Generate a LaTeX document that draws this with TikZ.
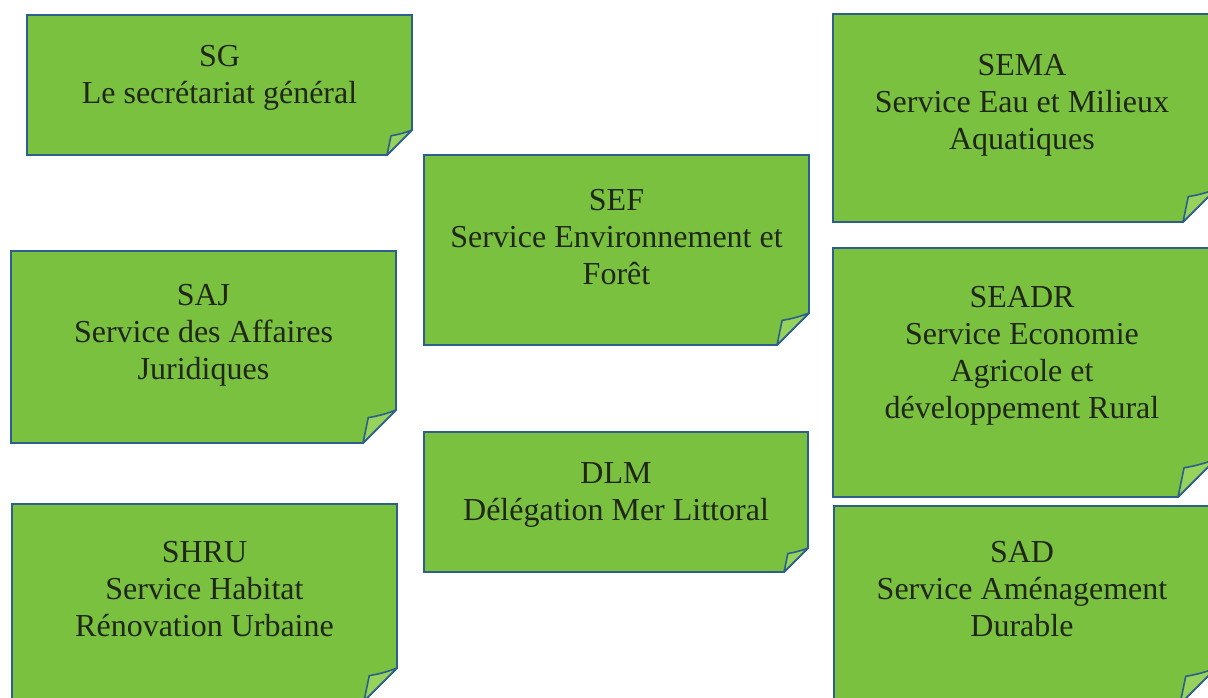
\documentclass[tikz,border=0pt]{standalone}
\usepackage{fontspec}
\setmainfont{Liberation Serif}
\definecolor{notefill}{RGB}{122,193,64}
\definecolor{foldfill}{RGB}{150,210,92}
\definecolor{noteline}{RGB}{45,95,140}
\definecolor{notetext}{RGB}{32,38,24}
\tikzset{
  notebody/.style={fill=notefill,draw=noteline,line width=1.8pt,line join=miter},
  notefold/.style={fill=foldfill,draw=noteline,line width=1.6pt,line join=round},
  notelabel/.style={anchor=base,inner sep=0pt,text=notetext,font=\fontsize{32}{37}\selectfont}
}
% #1 left, #2 top, #3 right, #4 bottom, #5 fold size
\newcommand\stickynote[5]{%
  \draw[notebody] (#1,#2) -- (#3,#2) -- (#3,#4-#5) -- (#3-#5,#4) -- (#1,#4) -- cycle;
  \draw[notefold] (#3,#4-#5) .. controls (#3-0.35*#5,#4-0.86*#5) and (#3-0.65*#5,#4-0.8*#5) .. (#3-0.84*#5,#4-0.77*#5) -- (#3-#5,#4) -- cycle;
}
\newcommand\notetext[1]{\begin{tabular}[t]{@{}c@{}}#1\end{tabular}}
\begin{document}
\begin{tikzpicture}[x=1pt,y=-1pt]
\useasboundingbox (0,0) rectangle (1208,697);
\clip (0,0) rectangle (1208,697);
\fill[white] (0,0) rectangle (1208,697);
% left column
\stickynote{27}{15}{412}{155}{25}
\node[notelabel] (sg) at (219.5,66) {\notetext{SG\\Le secrétariat général}};
\stickynote{11}{251}{396}{443}{33}
\node[notelabel] (saj) at (203.5,305) {\notetext{SAJ\\Service des Affaires\\Juridiques}};
\stickynote{12}{504}{397}{701}{33}
\node[notelabel] (shru) at (204.5,562) {\notetext{SHRU\\Service Habitat\\Rénovation Urbaine}};
% middle column
\stickynote{424}{155}{809}{345}{32}
\node[notelabel] (sef) at (616.5,210) {\notetext{SEF\\Service Environnement et\\Forêt}};
\stickynote{424}{432}{808}{572}{24}
\node[notelabel] (dlm) at (616,483) {\notetext{DLM\\Délégation Mer Littoral}};
% right column
\stickynote{833}{14}{1216}{222}{33}
\node[notelabel] (sema) at (1022,75) {\notetext{SEMA\\Service Eau et Milieux\\Aquatiques}};
\stickynote{833}{248}{1216}{497}{38}
\node[notelabel] (seadr) at (1022,307) {\notetext{SEADR\\Service Economie\\Agricole et\\développement Rural}};
\stickynote{834}{506}{1216}{704}{36}
\node[notelabel] (sad) at (1022,562) {\notetext{SAD\\Service Aménagement\\Durable}};
\end{tikzpicture}
\end{document}
